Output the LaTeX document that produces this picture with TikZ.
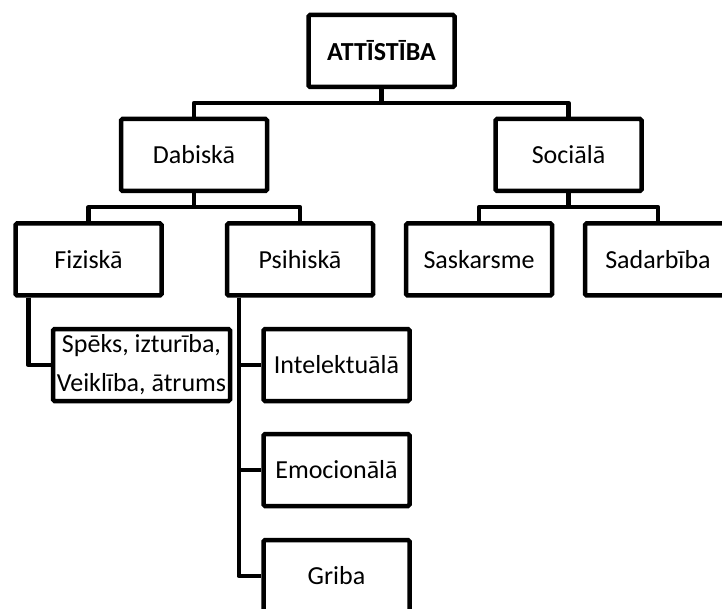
\documentclass[tikz,border=0pt]{standalone}
\usepackage{fontspec}
\setmainfont{Carlito}
\usetikzlibrary{calc}

\tikzset{
  box/.style={draw, line width=4.5pt, rounded corners=1.5pt, minimum width=146pt, minimum height=72pt,
    inner sep=2pt, font=\fontsize{26}{39}\selectfont, align=center},
  conn/.style={line width=4.5pt, line join=round}
}

\begin{document}
\begin{tikzpicture}[x=1pt, y=-1pt]

  %% ════ boxes ════
  \node[box, font=\fontsize{26}{39}\selectfont\bfseries] (att) at (381.5,51) {ATTĪSTĪBA};
  \node[box] (dab) at (194,155) {Dabiskā};
  \node[box] (soc) at (568.5,155) {Sociālā};

  \node[box] (fiz) at (88.5,259.5) {Fiziskā};
  \node[box] (psi) at (300,259.5) {Psihiskā};
  \node[box] (sas) at (479,259.5) {Saskarsme};
  \node[box] (sad) at (658,259.5) {Sadarbība};

  \node[box, minimum width=177pt] (spe) at (141.5,365) {Spēks, izturība,\\Veiklība, ātrums};
  \node[box] (int) at (336.5,365) {Intelektuālā};
  \node[box] (emo) at (336.5,470) {Emocionālā};
  \node[box] (gri) at (336.5,576) {Griba};

  %% ════ connectors ════
  \coordinate (busA) at ($(att.south)!.5!(att.south|-dab.north)$);
  \draw[conn] (att.south) -- (busA) -| (dab.north);
  \draw[conn] (busA) -| (soc.north);

  \coordinate (busD) at ($(dab.south)!.5!(dab.south|-fiz.north)$);
  \draw[conn] (dab.south) -- (busD) -| (fiz.north);
  \draw[conn] (busD) -| (psi.north);

  \coordinate (busS) at ($(soc.south)!.5!(soc.south|-sas.north)$);
  \draw[conn] (soc.south) -- (busS) -| (sas.north);
  \draw[conn] (busS) -| (sad.north);

  % hanging children
  \coordinate (fizL) at ([xshift=15pt]fiz.south west);
  \draw[conn] (fizL) |- (spe.west);

  \coordinate (psiL) at ([xshift=14pt]psi.south west);
  \draw[conn] (psiL) |- (int.west);
  \draw[conn] (psiL) |- (emo.west);
  \draw[conn] (psiL) |- (gri.west);

  \pgfresetboundingbox
  \path[use as bounding box] (0,0) rectangle (722,609);
\end{tikzpicture}
\end{document}
